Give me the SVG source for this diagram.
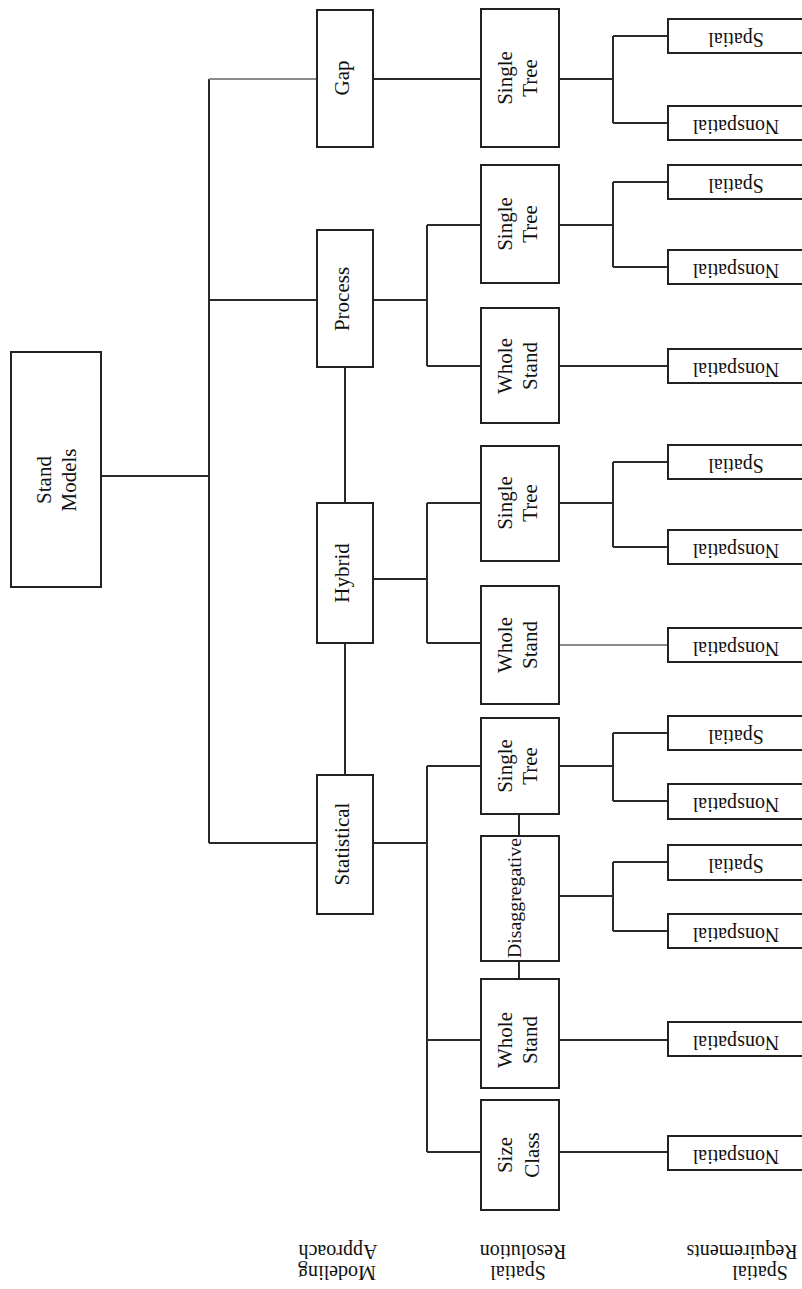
<svg xmlns="http://www.w3.org/2000/svg" width="802" height="1289" viewBox="0 0 802 1289">
<style>
rect.b{fill:#fff;stroke:#222;stroke-width:2}
#connectors line{stroke:#2a2a2a;stroke-width:2}
#connectors line.g{stroke:#8a8a8a}
text{font-family:"Liberation Serif","Times New Roman",serif;font-size:21px;fill:#111;text-anchor:middle}
text.s{font-size:20px}
</style>
<rect width="802" height="1289" fill="#fff"/>
<g id="connectors">
<line x1="101" y1="476" x2="209" y2="476"/>
<line x1="209" y1="79" x2="209" y2="843"/>
<line class="g" x1="209" y1="79" x2="317" y2="79"/>
<line x1="209" y1="300" x2="317" y2="300"/>
<line x1="209" y1="843" x2="317" y2="843"/>
<line x1="345" y1="367" x2="345" y2="503"/>
<line x1="345" y1="643" x2="345" y2="775"/>
<line x1="373" y1="79" x2="481" y2="79"/>
<line x1="373" y1="300" x2="427" y2="300"/>
<line x1="427" y1="225" x2="427" y2="366"/>
<line x1="427" y1="225" x2="481" y2="225"/>
<line x1="427" y1="366" x2="481" y2="366"/>
<line x1="373" y1="579" x2="427" y2="579"/>
<line x1="427" y1="503" x2="427" y2="643"/>
<line x1="427" y1="503" x2="481" y2="503"/>
<line x1="427" y1="643" x2="481" y2="643"/>
<line x1="373" y1="843" x2="427" y2="843"/>
<line x1="427" y1="766" x2="427" y2="1152"/>
<line x1="427" y1="766" x2="481" y2="766"/>
<line x1="427" y1="1040" x2="481" y2="1040"/>
<line x1="427" y1="1152" x2="481" y2="1152"/>
<line x1="519" y1="814" x2="519" y2="836"/>
<line x1="519" y1="961" x2="519" y2="979"/>
<line x1="559" y1="79" x2="613" y2="79"/>
<line x1="613" y1="36" x2="613" y2="123"/>
<line x1="613" y1="36" x2="668" y2="36"/>
<line x1="613" y1="123" x2="668" y2="123"/>
<line x1="559" y1="225" x2="613" y2="225"/>
<line x1="613" y1="182" x2="613" y2="267"/>
<line x1="613" y1="182" x2="668" y2="182"/>
<line x1="613" y1="267" x2="668" y2="267"/>
<line x1="559" y1="366" x2="668" y2="366"/>
<line x1="559" y1="503" x2="613" y2="503"/>
<line x1="613" y1="462" x2="613" y2="547"/>
<line x1="613" y1="462" x2="668" y2="462"/>
<line x1="613" y1="547" x2="668" y2="547"/>
<line class="g" x1="559" y1="645" x2="668" y2="645"/>
<line x1="559" y1="766" x2="613" y2="766"/>
<line x1="613" y1="733" x2="613" y2="801"/>
<line x1="613" y1="733" x2="668" y2="733"/>
<line x1="613" y1="801" x2="668" y2="801"/>
<line x1="559" y1="896" x2="613" y2="896"/>
<line x1="613" y1="862" x2="613" y2="931"/>
<line x1="613" y1="862" x2="668" y2="862"/>
<line x1="613" y1="931" x2="668" y2="931"/>
<line x1="559" y1="1040" x2="668" y2="1040"/>
<line x1="559" y1="1152" x2="668" y2="1152"/>
</g>

<g id="stand-models"><rect class="b" x="11" y="352" width="90" height="235"/>
<g transform="translate(56 480) rotate(-90)"><text y="-5">Stand</text><text y="20">Models</text></g></g>

<g id="gap"><rect class="b" x="317" y="10" width="56" height="137"/>
<text transform="translate(345 78) rotate(-90)" y="4">Gap</text></g>
<g id="process"><rect class="b" x="317" y="230" width="56" height="137"/>
<text transform="translate(345 299) rotate(-90)" y="4">Process</text></g>
<g id="hybrid"><rect class="b" x="317" y="503" width="56" height="140"/>
<text transform="translate(345 573) rotate(-90)" y="4">Hybrid</text></g>
<g id="statistical"><rect class="b" x="317" y="775" width="56" height="139"/>
<text transform="translate(345 844) rotate(-90)" y="4">Statistical</text></g>

<g id="gap-single-tree"><rect class="b" x="481" y="9" width="78" height="138"/>
<g transform="translate(520 78) rotate(-90)"><text y="-8">Single</text><text y="17">Tree</text></g></g>
<g id="process-single-tree"><rect class="b" x="481" y="165" width="78" height="118"/>
<g transform="translate(520 224) rotate(-90)"><text y="-8">Single</text><text y="17">Tree</text></g></g>
<g id="process-whole-stand"><rect class="b" x="481" y="308" width="78" height="115"/>
<g transform="translate(520 366) rotate(-90)"><text y="-8">Whole</text><text y="17">Stand</text></g></g>
<g id="hybrid-single-tree"><rect class="b" x="481" y="446" width="78" height="115"/>
<g transform="translate(520 503) rotate(-90)"><text y="-8">Single</text><text y="17">Tree</text></g></g>
<g id="hybrid-whole-stand"><rect class="b" x="481" y="586" width="78" height="118"/>
<g transform="translate(520 645) rotate(-90)"><text y="-8">Whole</text><text y="17">Stand</text></g></g>
<g id="stat-single-tree"><rect class="b" x="481" y="718" width="78" height="96"/>
<g transform="translate(520 766) rotate(-90)"><text y="-8">Single</text><text y="17">Tree</text></g></g>
<g id="stat-disaggregative"><rect class="b" x="481" y="836" width="78" height="125"/>
<text transform="translate(520 898) rotate(-90)" y="1" style="font-size:18px" textLength="120" lengthAdjust="spacingAndGlyphs">Disaggregative</text></g>
<g id="stat-whole-stand"><rect class="b" x="481" y="979" width="78" height="109"/>
<g transform="translate(520 1040) rotate(-90)"><text y="-8">Whole</text><text y="17">Stand</text></g></g>
<g id="stat-size-class"><rect class="b" x="481" y="1100" width="78" height="110"/>
<g transform="translate(520 1155) rotate(-90)"><text y="-8">Size</text><text y="19">Class</text></g></g>

<g id="r1"><rect class="b" x="668" y="19" width="140" height="34"/><text class="s" transform="rotate(180 736 32.5)" x="736" y="32.5">Spatial</text></g>
<g id="r2"><rect class="b" x="668" y="106" width="140" height="34"/><text class="s" transform="rotate(180 736 119.5)" x="736" y="119.5">Nonspatial</text></g>
<g id="r3"><rect class="b" x="668" y="165" width="140" height="34"/><text class="s" transform="rotate(180 736 178.5)" x="736" y="178.5">Spatial</text></g>
<g id="r4"><rect class="b" x="668" y="250" width="140" height="34"/><text class="s" transform="rotate(180 736 263.5)" x="736" y="263.5">Nonspatial</text></g>
<g id="r5"><rect class="b" x="668" y="349" width="140" height="34"/><text class="s" transform="rotate(180 736 362.5)" x="736" y="362.5">Nonspatial</text></g>
<g id="r6"><rect class="b" x="668" y="445" width="140" height="34"/><text class="s" transform="rotate(180 736 458.5)" x="736" y="458.5">Spatial</text></g>
<g id="r7"><rect class="b" x="668" y="530" width="140" height="34"/><text class="s" transform="rotate(180 736 543.5)" x="736" y="543.5">Nonspatial</text></g>
<g id="r8"><rect class="b" x="668" y="628" width="140" height="34"/><text class="s" transform="rotate(180 736 641.5)" x="736" y="641.5">Nonspatial</text></g>
<g id="r9"><rect class="b" x="668" y="716" width="140" height="34"/><text class="s" transform="rotate(180 736 729.5)" x="736" y="729.5">Spatial</text></g>
<g id="r10"><rect class="b" x="668" y="784" width="140" height="35"/><text class="s" transform="rotate(180 736 798)" x="736" y="798">Nonspatial</text></g>
<g id="r11"><rect class="b" x="668" y="845" width="140" height="35"/><text class="s" transform="rotate(180 736 859)" x="736" y="859">Spatial</text></g>
<g id="r12"><rect class="b" x="668" y="914" width="140" height="34"/><text class="s" transform="rotate(180 736 927.5)" x="736" y="927.5">Nonspatial</text></g>
<g id="r13"><rect class="b" x="668" y="1022" width="140" height="34"/><text class="s" transform="rotate(180 736 1035.5)" x="736" y="1035.5">Nonspatial</text></g>
<g id="r14"><rect class="b" x="668" y="1136" width="140" height="34"/><text class="s" transform="rotate(180 736 1149.5)" x="736" y="1149.5">Nonspatial</text></g>

<g id="labels">
<text class="s" transform="rotate(180 338 1245)" x="338" y="1245">Approach</text>
<text class="s" transform="rotate(180 337 1266)" x="337" y="1266">Modeling</text>
<text class="s" transform="rotate(180 523 1245)" x="523" y="1245">Resolution</text>
<text class="s" transform="rotate(180 518 1266)" x="518" y="1266">Spatial</text>
<text class="s" transform="rotate(180 742 1245)" x="742" y="1245">Requirements</text>
<text class="s" transform="rotate(180 760 1266)" x="760" y="1266">Spatial</text>
</g>
</svg>
